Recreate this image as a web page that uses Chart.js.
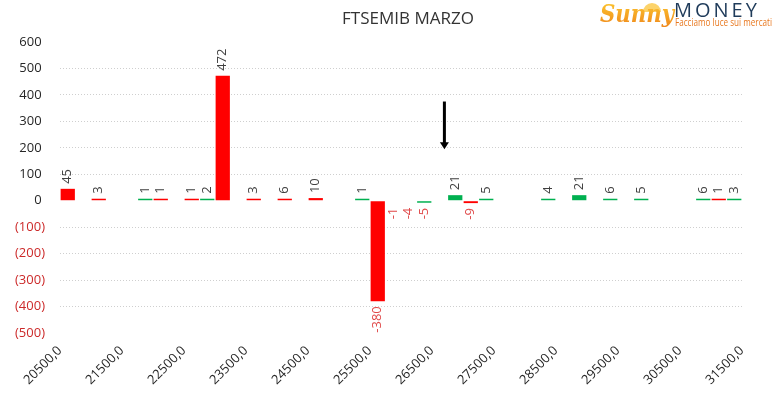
<!DOCTYPE html>
<html>
<head>
<meta charset="utf-8">
<script src="https://cdn.jsdelivr.net/npm/chart.js@4"></script>
<style>
  body { margin: 0; background: #ffffff; }
  #wrap { width: 783px; height: 397px; position: relative; }
</style>
</head>
<body>
<div id="wrap"><canvas id="strikeChart"></canvas></div>
<script>
// Strikes (one bar each) and net values
const strikes = [20500, 20750, 21000, 21250, 21500, 21750, 22000, 22250, 22500, 22750,
                 23000, 23250, 23500, 23750, 24000, 24250, 24500, 24750, 25000, 25250,
                 25500, 25750, 26000, 26250, 26500, 26750, 27000, 27250, 27500, 27750,
                 28000, 28250, 28500, 28750, 29000, 29250, 29500, 29750, 30000, 30250,
                 30500, 30750, 31000, 31250];
const values = [45, null, 3, null, null, 1, 1, null, 1, 2,
                472, null, 3, null, 6, null, 10, null, null, 1,
                -380, -1, -4, -5, null, 21, -9, 5, null, null,
                null, 4, null, 21, null, 6, null, 5, null, null,
                null, 6, 1, 3];
// 'r' = red bar, 'g' = green bar, '' = no visible bar
const side = ['r', '', 'r', '', '', 'g', 'r', '', 'r', 'g',
              'r', '', 'r', '', 'r', '', 'r', '', '', 'g',
              'r', '', '', 'g', '', 'g', 'r', 'g', '', '',
              '', 'g', '', 'g', '', 'g', '', 'g', '', '',
              '', 'g', 'r', 'g'];
const axisLabels = [20500, 21500, 22500, 23500, 24500, 25500, 26500, 27500, 28500, 29500, 30500, 31500];
const arrowStrike = 26700;
const arrowFrom = 375;
const arrowTo = 195;

const RED = '#ff0000';
const GREEN = '#00b050';
const barColors = side.map(s => s === 'r' ? RED : s === 'g' ? GREEN : 'rgba(0,0,0,0)');

// Rotated value labels above / below each bar
const valueLabels = {
    id: 'valueLabels',
    afterDatasetsDraw(chart) {
        const ctx = chart.ctx;
        const meta = chart.getDatasetMeta(0);
        ctx.save();
        ctx.font = '13px "Open Sans"';
        ctx.textBaseline = 'middle';
        meta.data.forEach((bar, i) => {
            const v = values[i];
            if (v === null) return;
            const y = v >= 0 ? Math.min(bar.y, bar.base) - 5 : Math.max(bar.y, bar.base) + 5;
            ctx.save();
            ctx.translate(bar.x, y);
            ctx.rotate(-Math.PI / 2);
            ctx.textAlign = v >= 0 ? 'left' : 'right';
            ctx.fillStyle = v >= 0 ? '#404040' : '#e04848';
            ctx.fillText(String(v), 0, 0);
            ctx.restore();
        });
        ctx.restore();
    }
};

// Title, price arrow and logo
const decorations = {
    id: 'decorations',
    afterDraw(chart) {
        const ctx = chart.ctx;
        ctx.save();
        ctx.fillStyle = '#333333';
        ctx.font = '17px "Open Sans"';
        ctx.textAlign = 'center';
        ctx.textBaseline = 'middle';
        ctx.fillText('FTSEMIB MARZO', 408, 19);

        // arrow
        const x = chart.scales.x2.getPixelForValue(arrowStrike);
        const y1 = chart.scales.y.getPixelForValue(arrowFrom);
        const y2 = chart.scales.y.getPixelForValue(arrowTo);
        ctx.strokeStyle = '#000000';
        ctx.fillStyle = '#000000';
        ctx.lineWidth = 3;
        ctx.beginPath();
        ctx.moveTo(x, y1);
        ctx.lineTo(x, y2 - 6);
        ctx.stroke();
        ctx.beginPath();
        ctx.moveTo(x - 4.5, y2 - 7);
        ctx.lineTo(x + 4.5, y2 - 7);
        ctx.lineTo(x, y2);
        ctx.closePath();
        ctx.fill();

        // logo
        const grad = ctx.createLinearGradient(0, 4, 0, 26);
        grad.addColorStop(0, '#fbc02d');
        grad.addColorStop(1, '#f08a1c');
        ctx.fillStyle = '#fcd36a';
        ctx.beginPath();
        ctx.arc(652, 12, 9, Math.PI, 2 * Math.PI);
        ctx.fill();
        ctx.fillStyle = grad;
        ctx.font = 'italic bold 24px "DejaVu Serif"';
        ctx.textAlign = 'left';
        ctx.textBaseline = 'alphabetic';
        ctx.fillText('Sunny', 600, 22, 74);
        ctx.fillStyle = '#1f3b5a';
        ctx.font = '20px "Open Sans"';
        ctx.letterSpacing = '3px';
        ctx.fillText('MONEY', 674, 17, 100);
        ctx.letterSpacing = '0px';
        ctx.fillStyle = '#e8771e';
        ctx.font = '10px "Open Sans"';
        ctx.fillText('Facciamo luce sui mercati', 675, 26, 97);
        ctx.restore();
    }
};

const ctx = document.getElementById('strikeChart').getContext('2d');
new Chart(ctx, {
    type: 'bar',
    data: {
        labels: strikes,
        datasets: [{
            data: values,
            backgroundColor: barColors,
            borderWidth: 0,
            barPercentage: 0.92,
            categoryPercentage: 1,
            minBarLength: 2
        }]
    },
    options: {
        responsive: true,
        maintainAspectRatio: false,
        animation: false,
        layout: {
            padding: { top: 42, right: 41, left: 0, bottom: 0 }
        },
        plugins: {
            legend: { display: false },
            tooltip: { enabled: false }
        },
        scales: {
            x: {
                display: false
            },
            // strike labels sit on the bar boundaries, so they get their own linear axis
            x2: {
                type: 'linear',
                position: 'bottom',
                offset: false,
                min: axisLabels[0],
                max: axisLabels[axisLabels.length - 1],
                afterBuildTicks: axis => {
                    axis.ticks = axisLabels.map(v => ({ value: v }));
                },
                afterFit: axis => { axis.height = 64; },
                grid: { display: false, drawTicks: false, offset: false },
                border: { display: false },
                ticks: {
                    autoSkip: false,
                    minRotation: 45,
                    maxRotation: 45,
                    padding: 10,
                    color: '#262626',
                    font: { family: 'Open Sans', size: 13 },
                    callback: v => v.toFixed(1).replace('.', ',')
                }
            },
            y: {
                min: -500,
                max: 600,
                afterFit: axis => { axis.width = 60; },
                border: { display: false, dash: [1, 2] },
                grid: {
                    drawTicks: false,
                    color: c => (c.tick.value === 0 || c.tick.value === 600 || c.tick.value === -500) ? 'rgba(0,0,0,0)' : '#cfcfcf',
                    lineWidth: 1
                },
                ticks: {
                    stepSize: 100,
                    padding: 15,
                    color: c => c.tick.value < 0 ? '#cc2a2a' : '#262626',
                    font: { family: 'Open Sans', size: 13 },
                    callback: v => v < 0 ? '(' + Math.abs(v) + ')' : v + ' '
                }
            }
        }
    },
    plugins: [valueLabels, decorations]
});
</script>
</body>
</html>
